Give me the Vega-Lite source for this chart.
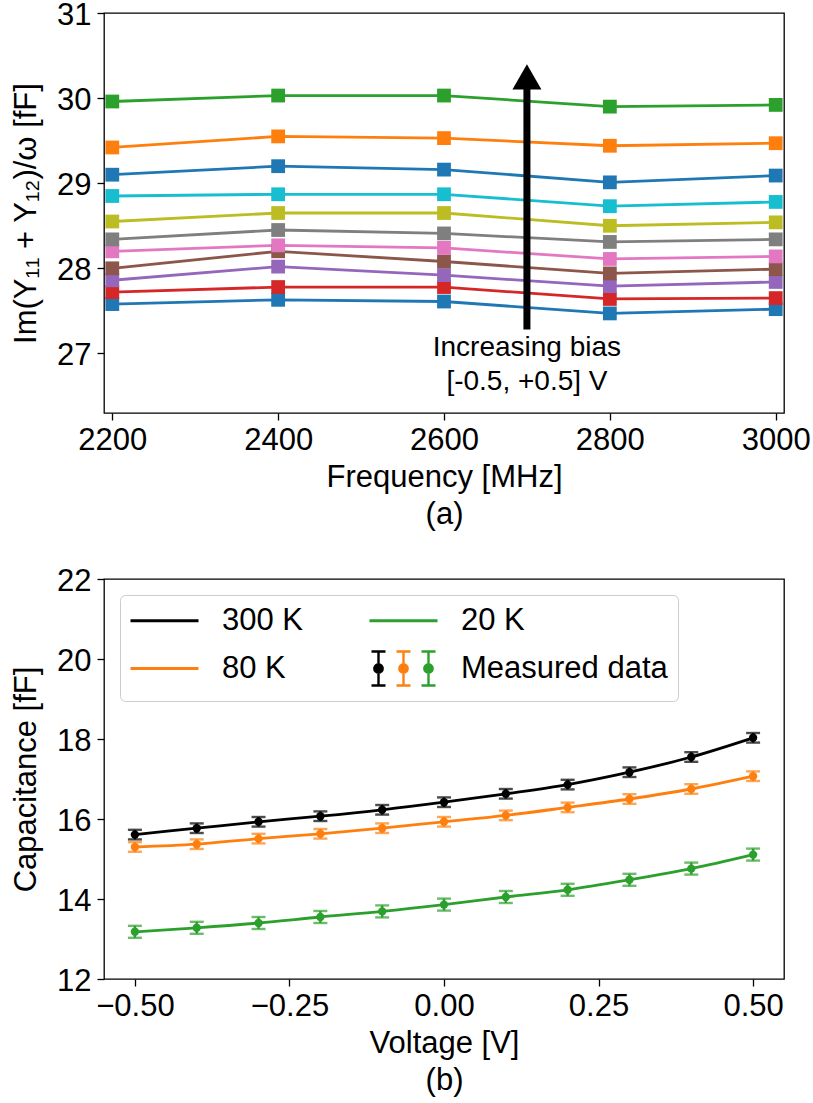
{
  "$schema": "https://vega.github.io/schema/vega-lite/v6.json",
  "background": "white",
  "padding": {"left": 9, "top": -2, "right": 5, "bottom": 5},
  "bounds": "flush",
  "spacing": 166,
  "resolve": {"scale": {"color": "independent"}, "legend": {"color": "independent"}},
  "config": {
    "font": "Liberation Sans",
    "view": {"stroke": "black", "strokeWidth": 1.3},
    "axis": {
      "grid": false, "domain": false,
      "tickColor": "black", "tickSize": 7, "tickWidth": 1.3,
      "labelFontSize": 31, "labelColor": "black", "labelPadding": 6,
      "labelFlush": false, "labelOverlap": false,
      "titleFontSize": 31, "titleColor": "black", "titleFontWeight": "normal"
    },
    "axisY": {"labelOffset": 2}
  },
  "datasets": {
    "freq": [
      {"f": 2200, "bias": -0.5, "v": 27.58}, {"f": 2400, "bias": -0.5, "v": 27.63}, {"f": 2600, "bias": -0.5, "v": 27.61}, {"f": 2800, "bias": -0.5, "v": 27.47}, {"f": 3000, "bias": -0.5, "v": 27.52},
      {"f": 2200, "bias": -0.4, "v": 27.72}, {"f": 2400, "bias": -0.4, "v": 27.78}, {"f": 2600, "bias": -0.4, "v": 27.78}, {"f": 2800, "bias": -0.4, "v": 27.64}, {"f": 3000, "bias": -0.4, "v": 27.65},
      {"f": 2200, "bias": -0.3, "v": 27.86}, {"f": 2400, "bias": -0.3, "v": 28.02}, {"f": 2600, "bias": -0.3, "v": 27.92}, {"f": 2800, "bias": -0.3, "v": 27.79}, {"f": 3000, "bias": -0.3, "v": 27.84},
      {"f": 2200, "bias": -0.2, "v": 28.00}, {"f": 2400, "bias": -0.2, "v": 28.20}, {"f": 2600, "bias": -0.2, "v": 28.08}, {"f": 2800, "bias": -0.2, "v": 27.94}, {"f": 3000, "bias": -0.2, "v": 27.99},
      {"f": 2200, "bias": -0.1, "v": 28.20}, {"f": 2400, "bias": -0.1, "v": 28.27}, {"f": 2600, "bias": -0.1, "v": 28.24}, {"f": 2800, "bias": -0.1, "v": 28.11}, {"f": 3000, "bias": -0.1, "v": 28.14},
      {"f": 2200, "bias": 0.0, "v": 28.34}, {"f": 2400, "bias": 0.0, "v": 28.45}, {"f": 2600, "bias": 0.0, "v": 28.41}, {"f": 2800, "bias": 0.0, "v": 28.31}, {"f": 3000, "bias": 0.0, "v": 28.34},
      {"f": 2200, "bias": 0.1, "v": 28.55}, {"f": 2400, "bias": 0.1, "v": 28.65}, {"f": 2600, "bias": 0.1, "v": 28.65}, {"f": 2800, "bias": 0.1, "v": 28.50}, {"f": 3000, "bias": 0.1, "v": 28.54},
      {"f": 2200, "bias": 0.2, "v": 28.85}, {"f": 2400, "bias": 0.2, "v": 28.87}, {"f": 2600, "bias": 0.2, "v": 28.87}, {"f": 2800, "bias": 0.2, "v": 28.73}, {"f": 3000, "bias": 0.2, "v": 28.78},
      {"f": 2200, "bias": 0.3, "v": 29.10}, {"f": 2400, "bias": 0.3, "v": 29.20}, {"f": 2600, "bias": 0.3, "v": 29.16}, {"f": 2800, "bias": 0.3, "v": 29.01}, {"f": 3000, "bias": 0.3, "v": 29.09},
      {"f": 2200, "bias": 0.4, "v": 29.42}, {"f": 2400, "bias": 0.4, "v": 29.55}, {"f": 2600, "bias": 0.4, "v": 29.53}, {"f": 2800, "bias": 0.4, "v": 29.44}, {"f": 3000, "bias": 0.4, "v": 29.47},
      {"f": 2200, "bias": 0.5, "v": 29.96}, {"f": 2400, "bias": 0.5, "v": 30.03}, {"f": 2600, "bias": 0.5, "v": 30.03}, {"f": 2800, "bias": 0.5, "v": 29.90}, {"f": 3000, "bias": 0.5, "v": 29.92}
    ],
    "arrow": [
      {"f": 2700, "y1": 27.28, "y2": 30.2, "yh": 30.25, "yt": 26.97, "label": ["Increasing bias", "[-0.5, +0.5] V"]}
    ],
    "cap": [
      {"v": -0.5, "T": "300 K", "c": 15.61, "e": 0.12}, {"v": -0.4, "T": "300 K", "c": 15.77, "e": 0.12}, {"v": -0.3, "T": "300 K", "c": 15.93, "e": 0.12}, {"v": -0.2, "T": "300 K", "c": 16.07, "e": 0.12}, {"v": -0.1, "T": "300 K", "c": 16.23, "e": 0.12}, {"v": 0.0, "T": "300 K", "c": 16.42, "e": 0.12}, {"v": 0.1, "T": "300 K", "c": 16.63, "e": 0.12}, {"v": 0.2, "T": "300 K", "c": 16.86, "e": 0.12}, {"v": 0.3, "T": "300 K", "c": 17.17, "e": 0.12}, {"v": 0.4, "T": "300 K", "c": 17.55, "e": 0.12}, {"v": 0.5, "T": "300 K", "c": 18.03, "e": 0.12},
      {"v": -0.5, "T": "80 K", "c": 15.30, "e": 0.12}, {"v": -0.4, "T": "80 K", "c": 15.37, "e": 0.12}, {"v": -0.3, "T": "80 K", "c": 15.51, "e": 0.12}, {"v": -0.2, "T": "80 K", "c": 15.63, "e": 0.12}, {"v": -0.1, "T": "80 K", "c": 15.77, "e": 0.12}, {"v": 0.0, "T": "80 K", "c": 15.93, "e": 0.12}, {"v": 0.1, "T": "80 K", "c": 16.09, "e": 0.12}, {"v": 0.2, "T": "80 K", "c": 16.29, "e": 0.12}, {"v": 0.3, "T": "80 K", "c": 16.50, "e": 0.12}, {"v": 0.4, "T": "80 K", "c": 16.75, "e": 0.12}, {"v": 0.5, "T": "80 K", "c": 17.07, "e": 0.12},
      {"v": -0.5, "T": "20 K", "c": 13.18, "e": 0.15}, {"v": -0.4, "T": "20 K", "c": 13.28, "e": 0.15}, {"v": -0.3, "T": "20 K", "c": 13.40, "e": 0.15}, {"v": -0.2, "T": "20 K", "c": 13.55, "e": 0.15}, {"v": -0.1, "T": "20 K", "c": 13.69, "e": 0.15}, {"v": 0.0, "T": "20 K", "c": 13.86, "e": 0.15}, {"v": 0.1, "T": "20 K", "c": 14.05, "e": 0.15}, {"v": 0.2, "T": "20 K", "c": 14.23, "e": 0.15}, {"v": 0.3, "T": "20 K", "c": 14.48, "e": 0.15}, {"v": 0.4, "T": "20 K", "c": 14.76, "e": 0.15}, {"v": 0.5, "T": "20 K", "c": 15.11, "e": 0.15}
    ]
  },
  "vconcat": [
    {
      "width": 680, "height": 400,
      "layer": [
        {
          "data": {"name": "freq"},
          "mark": {"type": "line", "strokeWidth": 2.8, "point": {"shape": "square", "size": 190, "filled": true, "opacity": 1}},
          "encoding": {
            "x": {"field": "f", "type": "quantitative", "scale": {"domain": [2190, 3010], "nice": false, "zero": false},
                  "axis": {"values": [2200, 2400, 2600, 2800, 3000], "format": "d", "title": ["Frequency [MHz]", "(a)"], "titleLineHeight": 37, "titlePadding": 7, "labelPadding": 5}},
            "y": {"field": "v", "type": "quantitative", "scale": {"domain": [26.3, 31], "nice": false, "zero": false},
                  "axis": {"values": [27, 28, 29, 30, 31], "format": "d", "title": "Im(Y₁₁ + Y₁₂)/ω [fF]", "titlePadding": 14}},
            "color": {"field": "bias", "type": "ordinal",
                      "scale": {"domain": [-0.5, -0.4, -0.3, -0.2, -0.1, 0.0, 0.1, 0.2, 0.3, 0.4, 0.5],
                                "range": ["#1f77b4", "#d62728", "#9467bd", "#8c564b", "#e377c2", "#7f7f7f", "#bcbd22", "#17becf", "#1f77b4", "#ff7f0e", "#2ca02c"]},
                      "legend": null}
          }
        },
        {
          "data": {"name": "arrow"},
          "mark": {"type": "rule", "strokeWidth": 7, "color": "black"},
          "encoding": {
            "x": {"field": "f", "type": "quantitative"},
            "y": {"field": "y1", "type": "quantitative"},
            "y2": {"field": "y2"}
          }
        },
        {
          "data": {"name": "arrow"},
          "mark": {"type": "point", "shape": "triangle-up", "size": 840, "filled": true, "color": "black", "opacity": 1},
          "encoding": {
            "x": {"field": "f", "type": "quantitative"},
            "y": {"field": "yh", "type": "quantitative"}
          }
        },
        {
          "data": {"name": "arrow"},
          "mark": {"type": "text", "fontSize": 28, "lineHeight": 34, "align": "center", "baseline": "alphabetic", "color": "black"},
          "encoding": {
            "x": {"field": "f", "type": "quantitative"},
            "y": {"field": "yt", "type": "quantitative"},
            "text": {"field": "label"}
          }
        }
      ]
    },
    {
      "width": 680, "height": 400,
      "data": {"name": "cap"},
      "encoding": {
        "x": {"field": "v", "type": "quantitative", "scale": {"domain": [-0.55, 0.55], "nice": false, "zero": false},
              "axis": {"values": [-0.5, -0.25, 0, 0.25, 0.5], "format": ".2f", "title": ["Voltage [V]", "(b)"], "titleLineHeight": 37, "titlePadding": 7, "labelPadding": 5}},
        "color": {"field": "T", "type": "nominal",
                  "scale": {"domain": ["300 K", "80 K", "20 K", "Measured data"],
                            "range": ["black", "#ff7f0e", "#2ca02c",
                                      {"expr": "{gradient: 'linear', x1: 0, y1: 0, x2: 1, y2: 0, stops: [{offset: 0, color: 'black'}, {offset: 0.32, color: 'black'}, {offset: 0.32, color: '#ff7f0e'}, {offset: 0.68, color: '#ff7f0e'}, {offset: 0.68, color: '#2ca02c'}, {offset: 1, color: '#2ca02c'}]}"}]},
                  "legend": {
                    "orient": "top-left", "offset": 16, "title": null, "columns": 2,
                    "columnPadding": 59, "rowPadding": 10, "padding": 10,
                    "strokeColor": "#cccccc", "fillColor": "white", "cornerRadius": 5,
                    "labelFontSize": 31, "labelColor": "black", "labelOffset": 42, "labelLimit": 400,
                    "symbolSize": 400, "symbolStrokeWidth": 3, "symbolOffset": 19, "symbolType": "M-3.4,0H3.4",
                    "encode": {
                      "symbols": {
                        "update": {
                          "shape": {"signal": "datum.value === 'Measured data' ? 'M-3.2,-1.7H-1.8M-2.5,-1.7V1.7M-3.2,1.7H-1.8M-2.92,0A0.42,0.42,0,1,0,-2.08,0A0.42,0.42,0,1,0,-2.92,0M-0.7,-1.7H0.7M0,-1.7V1.7M-0.7,1.7H0.7M-0.42,0A0.42,0.42,0,1,0,0.42,0A0.42,0.42,0,1,0,-0.42,0M1.8,-1.7H3.2M2.5,-1.7V1.7M1.8,1.7H3.2M2.08,0A0.42,0.42,0,1,0,2.92,0A0.42,0.42,0,1,0,2.08,0' : 'M-3.4,0H3.4'"},
                          "strokeWidth": {"signal": "datum.value === 'Measured data' ? 2.4 : 3"},
                          "opacity": {"value": 1}
                        }
                      }
                    }
                  }}
      },
      "layer": [
        {
          "mark": {"type": "line", "strokeWidth": 2.8, "interpolate": "monotone"},
          "encoding": {
            "y": {"field": "c", "type": "quantitative", "scale": {"domain": [12, 22], "nice": false, "zero": false},
                  "axis": {"values": [12, 14, 16, 18, 20, 22], "title": "Capacitance [fF]", "titlePadding": 14}}
          }
        },
        {
          "mark": {"type": "errorbar", "thickness": 2.4, "ticks": {"size": 14, "thickness": 2.4}},
          "encoding": {
            "y": {"field": "c", "type": "quantitative", "title": "Capacitance [fF]"},
            "yError": {"field": "e"}
          }
        },
        {
          "mark": {"type": "point", "filled": true, "size": 70, "opacity": 1},
          "encoding": {
            "y": {"field": "c", "type": "quantitative", "title": "Capacitance [fF]"}
          }
        }
      ]
    }
  ]
}
